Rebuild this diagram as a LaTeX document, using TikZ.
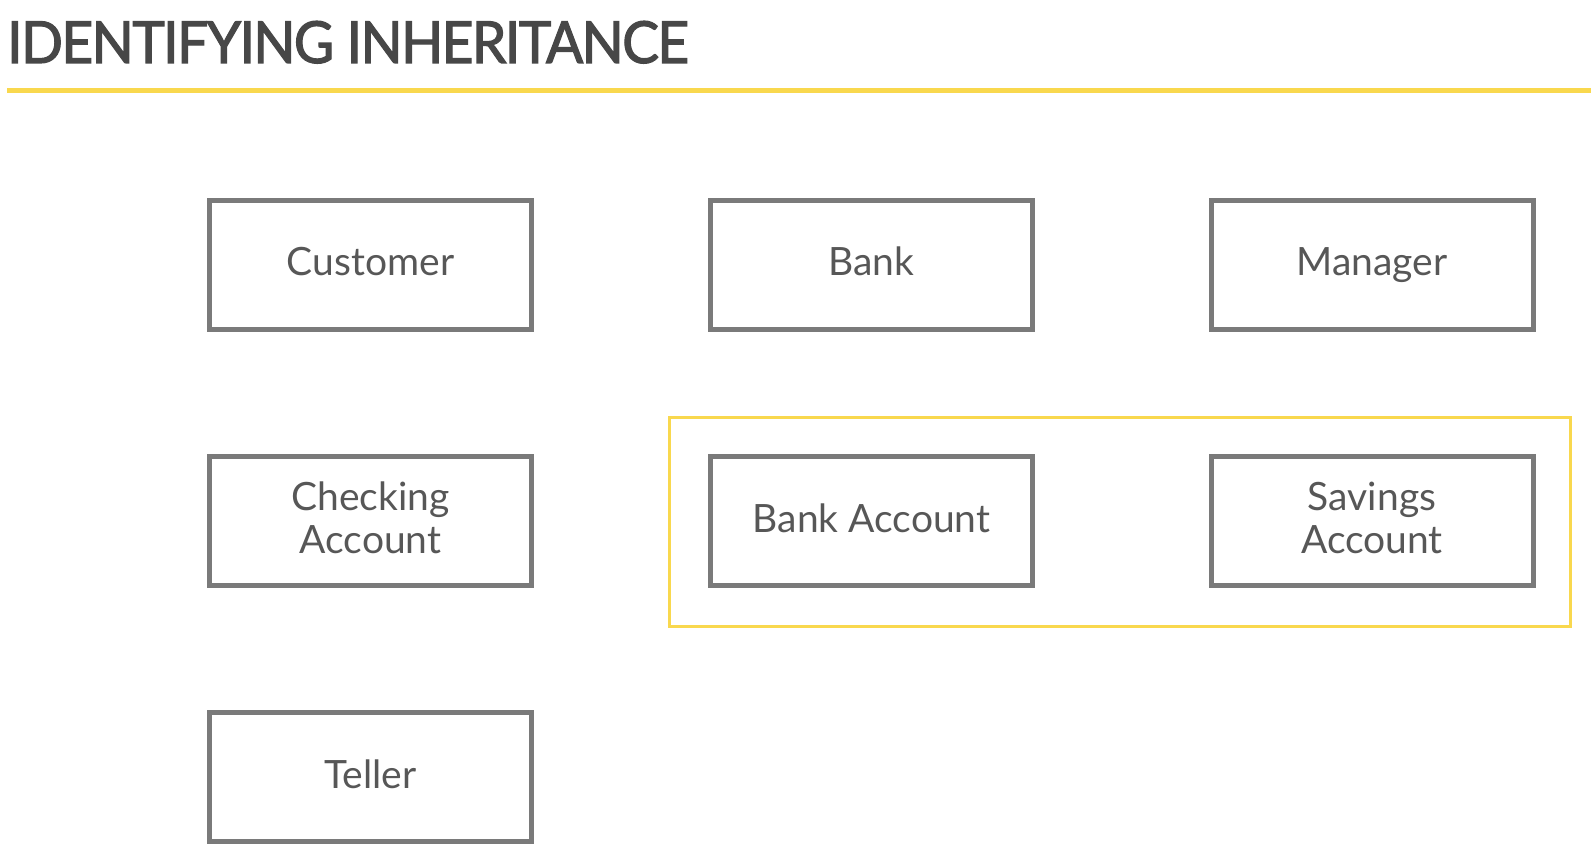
\documentclass[tikz,border=0pt]{standalone}
\usepackage{fontspec}
\setmainfont{Lato}
\newfontfamily\titlefont[FakeBold=2.0, FakeStretch=0.95, LetterSpace=-2.7]{Lato}
\definecolor{boxgray}{HTML}{7A7A7A}
\definecolor{txtgray}{HTML}{575757}
\definecolor{titlegray}{HTML}{474747}
\definecolor{accent}{HTML}{F9D84E}
\begin{document}
\begin{tikzpicture}[x=1pt,y=-1pt,
  cls/.style={draw=boxgray, line width=5pt, minimum width=322pt, minimum height=129pt,
    text=txtgray, align=center, font=\fontsize{39}{43}\selectfont, inner sep=0pt,
    text height=27pt, text depth=5pt},
  twoline/.style={text height=70pt, text depth=6pt},
  frame/.style={draw=accent, line width=3pt}]
\useasboundingbox (0,0) rectangle (1591,866);
\node[anchor=base west, text=titlegray, font=\titlefont\fontsize{58}{60}\selectfont, inner sep=0pt] (title) at (7,63) {IDENTIFYING INHERITANCE};
\coordinate (rl) at (7,91);
\coordinate (rr) at (1591,91);
\draw[accent, line width=5pt] (rl) -- (rr);
\coordinate (f1) at (669,418);
\coordinate (f2) at (1570,626);
\draw[frame] (f1) rectangle (f2);
\node[cls] (customer) at (370.5,265) {Customer};
\node[cls] (bank) at (871.5,265) {Bank};
\node[cls] (manager) at (1372,265) {Manager};
\node[cls, twoline] (checking) at (370.5,521) {Checking\\Account};
\node[cls] (bankaccount) at (871.5,521) {Bank Account};
\node[cls, twoline] (savings) at (1372,521) {Savings\\Account};
\node[cls] (teller) at (370.5,777) {Teller};
\end{tikzpicture}
\end{document}
